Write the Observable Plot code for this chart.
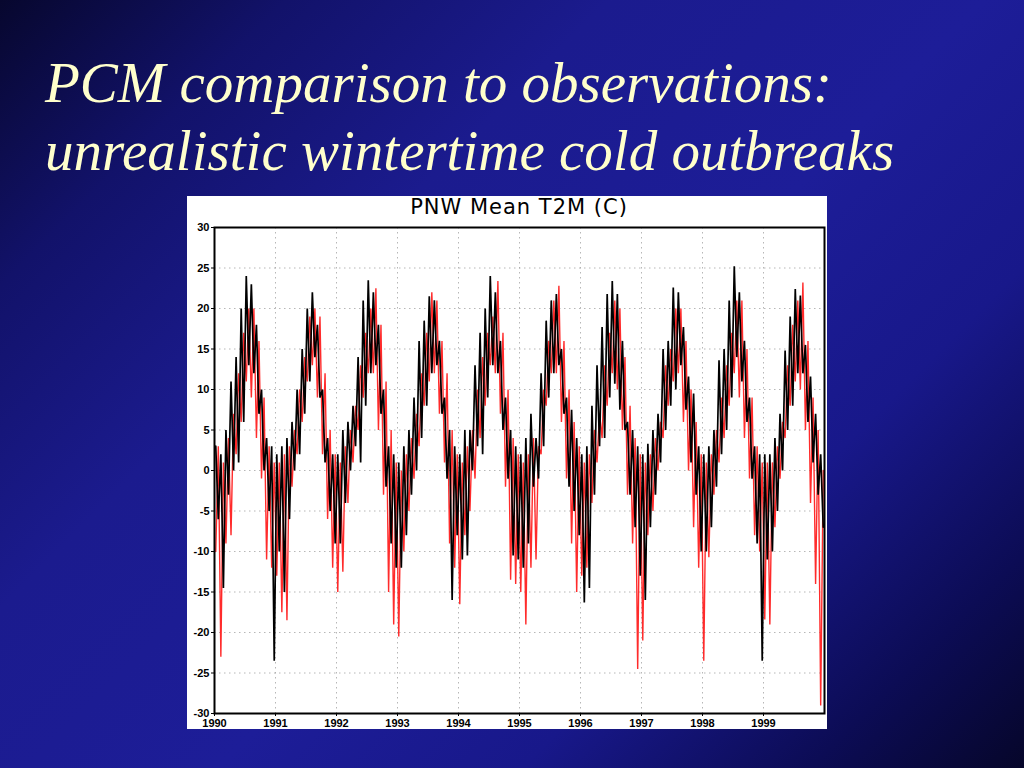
<!DOCTYPE html>
<html><head><meta charset="utf-8">
<script src="https://cdn.jsdelivr.net/npm/d3@7"></script>
<script src="https://cdn.jsdelivr.net/npm/@observablehq/plot@0.6"></script>
<style>
html,body{margin:0;padding:0;width:1024px;height:768px;overflow:hidden}
body{position:relative;background:linear-gradient(135deg,#07072e 0%,#12126a 16%,#1b1b8e 34%,#1d1d98 55%,#18188a 72%,#0c0c55 88%,#06062a 100%)}
.t{position:absolute;left:45px;color:#ffffcc;font-family:"Liberation Serif","Times New Roman",serif;font-style:italic;font-size:57px;line-height:56px;white-space:nowrap}
#panel{position:absolute;left:187px;top:196px;width:640px;height:533px;background:#fff}
#ctitle{position:absolute;left:27px;width:610px;top:-2px;text-align:center;font-family:"DejaVu Sans",sans-serif;font-size:21px;letter-spacing:1px;color:#000;line-height:26px}
#chart{position:absolute;left:0;top:0}
</style></head>
<body>
<div class="t" style="top:55px">PCM comparison to observations:</div>
<div class="t" style="top:123px">unrealistic wintertime cold outbreaks</div>
<div id="panel"><div id="chart"></div><div id="ctitle">PNW Mean T2M (C)</div></div>
<script>
// Years shown on the x axis
const years = [1990,1991,1992,1993,1994,1995,1996,1997,1998,1999];
const yTicks = [-30,-25,-20,-15,-10,-5,0,5,10,15,20,25,30];

// Monthly upper / lower envelope of daily values (Jan..Dec per year)
// Observations (black)
const obsHigh = [
 3,2,5,11,14,20,24,23,18,10,4,3,
 2,3,4,6,10,15,20,22,18,10,4,2,
 2,5,6,8,14,21,23.5,22,18,10,3,2,
 1,3,5,9,16,18.5,21.5,21,16,9,5,3,
 2,5,5,13,17,20,24,22,16,9,5,3,
 2,4,7,4,12,18.5,21,21.8,15,9,7.5,4,
 2,3,8,13,17.7,21.8,23.4,21.8,16,6,5,3,
 2,3.3,5,7,15,16,22.6,22,17.7,11.6,9.5,3,
 2,3,5,13.6,15,21,25.2,22,16,9,3,2,
 2,2,4,7,14.8,19,22.4,21.6,15.5,11.6,7,2
];
const obsLow = [
 -6,-14.5,-3,0,1,6,13,12,7,0,-5,-23.5,
 -10,-15,-6,0,2,7,11,14,9,1,-5,-9,
 -9,-4,0,3,1,8,12,13,7,-2,-9,-12,
 -12,-8,-3,0,4,8,12,13,7,-1,-16,-8,
 -11,-10.5,0,3,2,9,13,12,5,-1,-10.5,-11,
 -12,-9,-2,-1,3,9,12,13,7,-2,-5,-8,
 -16.3,-14.5,-3,3,4,9,10.7,7.5,5,-3,-7,-13,
 -16,-7,-3,1,5,8,10,13,7.5,1,-3,-10,
 -10,-7,-2,2,5,9,14,11,6,-1,-9,-23.5,
 -11,-10,-5,0,5,8,12,12,6,1,-3,-7
];
// PCM model (red)
const pcmHigh = [
 3,1,4,7,12,17,20,20,16,9,3,1,
 1,2,3,5,10,14,19,20,19,12,5,2,
 1,3,5,8,13,17,20,22.5,18,11,5,1,
 0,2,4,7,12,17,22,21,16,12,5,2,
 1,3,5,10,14,17,19,23.4,17,10,4,2,
 1,2,4,3,10,16,21,22.8,16,10,6,3,
 1,2,5,7,13,17,21,20,14,8,4,2,
 1,2,4,6,13,15,20,20,16,10,6,2,
 1,2,5,9,13,17,21,21,15,9,3,1,
 1,1,3,6,13,18,21,23.2,16,9,5,0
];
const pcmLow = [
 -10,-23,-9,-8,2,6,11,9,4,-1,-11,-12,
 -13,-17.5,-18.5,-2,2,6,11,13,9,2,-6,-12,
 -15,-12.5,-4,1,5,9,12,12,5,-3,-15,-19,
 -20.5,-10,-5,-1,3,8,11,12,7,1,-9,-12,
 -16.5,-8,-5,-1,4,8,13,12,7,-2,-13.5,-14,
 -15,-19,-12,-11,2,8,12,12,6,-1,-9,-15,
 -13,-12,-4,1,4,8,12,10,5,-3,-9,-24.5,
 -21,-8,-5,0,4,8,11,12,6,0,-7,-12,
 -23.5,-10.7,-3,1,4,8,12,9,4,-1,-8,-10,
 -18.4,-19,-7,-1,4,8,11,10,5,-4,-14,-29
];

function zigzag(high, low, hiFirst) {
  const pts = [];
  high.forEach((h, i) => {
    const yr = years[Math.floor(i / 12)], m = i % 12;
    const a = hiFirst ? h : low[i], b = hiFirst ? low[i] : h;
    pts.push({t: yr + (m + 0.25) / 12, v: a});
    pts.push({t: yr + (m + 0.75) / 12, v: b});
  });
  return pts;
}
const obs = zigzag(obsHigh, obsLow, true);
const pcm = zigzag(pcmHigh, pcmLow, false);

const grid = {stroke: "#999", strokeOpacity: 0.7, strokeDasharray: "1.5,3.5"};
const chart = Plot.plot({
  width: 640, height: 533,
  marginLeft: 27, marginTop: 31, marginRight: 3, marginBottom: 16,
  style: {background: "#fff", fontFamily: "'Liberation Sans', Arial, sans-serif", fontSize: "11px", fontWeight: "bold", color: "#000"},
  x: {domain: [1990, 2000], label: null},
  y: {domain: [-30, 30], label: null},
  marks: [
    Plot.gridX(years, grid),
    Plot.gridY(yTicks, grid),
    Plot.line(pcm, {x: "t", y: "v", stroke: "#ff2b2b", strokeWidth: 1.4, strokeLinejoin: "miter", strokeMiterlimit: 2}),
    Plot.line(obs, {x: "t", y: "v", stroke: "#000", strokeWidth: 1.7, strokeLinejoin: "miter", strokeMiterlimit: 2}),
    Plot.frame({stroke: "#000", strokeWidth: 2}),
    Plot.axisX(years, {tickFormat: d => String(d), tickSize: 3, tickPadding: 3, label: null}),
    Plot.axisY(yTicks, {tickFormat: d => String(d), tickSize: 3, tickPadding: 2, label: null})
  ]
});
document.getElementById("chart").appendChild(chart);
</script>
</body></html>
